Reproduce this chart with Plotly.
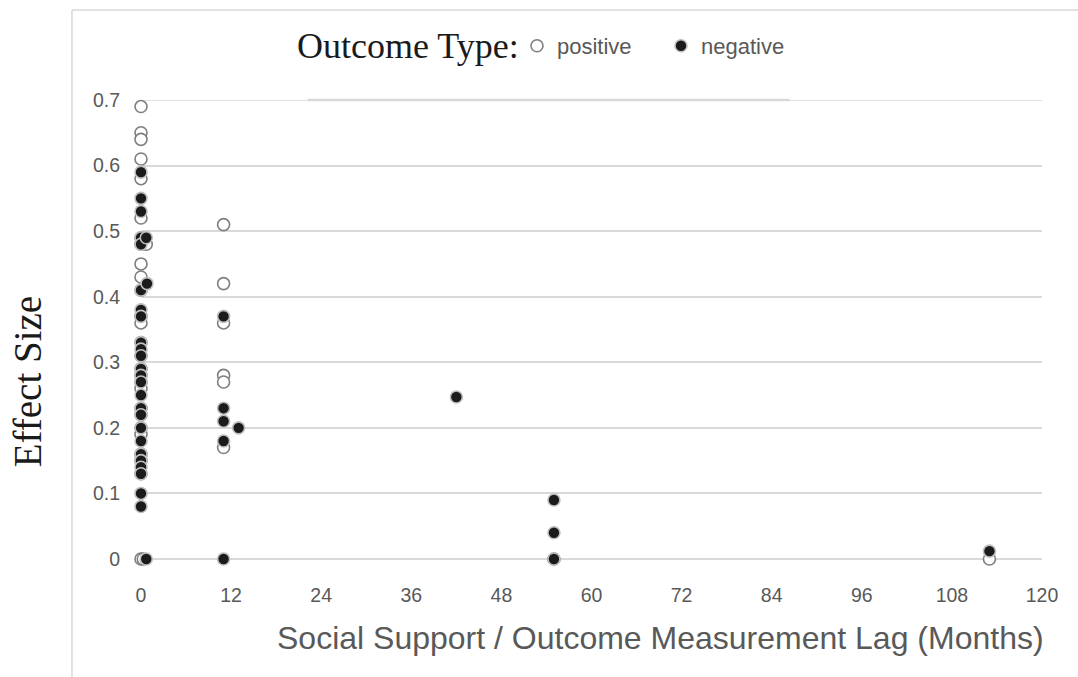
import plotly.graph_objects as go

# Lag between social support and outcome measurement (months) and effect sizes
pos_lag = [0, 0, 0, 0, 0, 0, 0, 0, 0, 0, 0, 0, 0, 0, 0, 0, 0, 0, 0, 0,
           0, 0, 0, 0, 0, 0, 0, 0.7, 0.3,
           11, 11, 11, 11, 11, 11, 55, 113]
pos_effect = [0.69, 0.65, 0.64, 0.61, 0.58, 0.52, 0.49, 0.48, 0.45, 0.43,
              0.41, 0.37, 0.36, 0.33, 0.31, 0.29, 0.28, 0.27, 0.26, 0.23,
              0.22, 0.20, 0.19, 0.16, 0.15, 0.13, 0.0, 0.48, 0.0,
              0.51, 0.42, 0.36, 0.28, 0.27, 0.17, 0.0, 0.0]

neg_lag = [0, 0, 0, 0, 0, 0, 0, 0, 0, 0, 0, 0, 0, 0, 0, 0, 0, 0, 0, 0,
           0, 0, 0, 0, 0, 0.7, 0.8, 0.7,
           11, 11, 11, 11, 11, 13, 42, 55, 55, 55, 113]
neg_effect = [0.59, 0.55, 0.53, 0.49, 0.48, 0.41, 0.38, 0.37, 0.33, 0.32,
              0.31, 0.29, 0.28, 0.27, 0.25, 0.23, 0.22, 0.20, 0.18, 0.16,
              0.15, 0.14, 0.13, 0.10, 0.08, 0.49, 0.42, 0.0,
              0.37, 0.23, 0.21, 0.18, 0.0, 0.20, 0.247, 0.09, 0.04, 0.0, 0.012]

x_ticks = [0, 12, 24, 36, 48, 60, 72, 84, 96, 108, 120]
y_ticks = [0, 0.1, 0.2, 0.3, 0.4, 0.5, 0.6, 0.7]
y_tick_text = ["0", "0.1", "0.2", "0.3", "0.4", "0.5", "0.6", "0.7"]

GRID = "#d9d9d9"
TICK_GRAY = "#595959"

fig = go.Figure()

# Top gridline at the upper end of the value axis
fig.add_shape(type="line", xref="x", yref="y", layer="below",
              x0=x_ticks[0], x1=x_ticks[-1], y0=y_ticks[-1], y1=y_ticks[-1],
              line=dict(color=GRID, width=1.5))

fig.add_trace(go.Scatter(
    x=pos_lag, y=pos_effect, mode="markers", name="positive",
    cliponaxis=False,
    marker=dict(symbol="circle", size=12, color="#ffffff",
                line=dict(color="#7f7f7f", width=1.6)),
))
fig.add_trace(go.Scatter(
    x=neg_lag, y=neg_effect, mode="markers", name="negative",
    cliponaxis=False,
    marker=dict(symbol="circle", size=12, color="#1c1a1b",
                line=dict(color="#bfbfbf", width=1.6)),
))

# Outer chart frame (left and top edges)
fig.add_shape(type="line", xref="paper", yref="paper",
              x0=-0.0766, x1=-0.0766, y0=1.196, y1=-0.27,
              line=dict(color=GRID, width=1.5))
fig.add_shape(type="line", xref="paper", yref="paper",
              x0=-0.0766, x1=1.05, y0=1.196, y1=1.196,
              line=dict(color=GRID, width=1.5))
# Legend box lower edge over the top gridline
fig.add_shape(type="line", xref="paper", yref="paper", layer="below",
              x0=0.185, x1=0.72, y0=1.0, y1=1.0,
              line=dict(color=GRID, width=2.6))

# Legend heading
fig.add_annotation(text="Outcome Type:", xref="paper", yref="paper",
                   x=0.171, y=1.1176, xanchor="left", yanchor="middle",
                   showarrow=False,
                   font=dict(family="Liberation Serif", size=36, color="#1a1a1a"))

# Axis titles
fig.add_annotation(text="Social Support / Outcome Measurement Lag (Months)",
                   xref="paper", yref="paper", x=1.004, y=-0.172,
                   xanchor="right", yanchor="middle", showarrow=False,
                   font=dict(family="Liberation Sans", size=32, color=TICK_GRAY))
fig.add_annotation(text="Effect Size", textangle=-90,
                   xref="paper", yref="paper", x=-0.126, y=0.386,
                   xanchor="center", yanchor="middle", showarrow=False,
                   font=dict(family="Liberation Serif", size=39, color="#1a1a1a"))

fig.update_layout(
    width=1078, height=677,
    margin=dict(l=141, r=36, t=100, b=118, autoexpand=False),
    paper_bgcolor="#ffffff", plot_bgcolor="#ffffff",
    showlegend=True,
    legend=dict(
        orientation="h", xref="container", x=517 / 1078, xanchor="left",
        yref="container", y=1 - 46 / 677, yanchor="middle",
        entrywidthmode="pixels", entrywidth=99,
        font=dict(family="Liberation Sans", size=22, color=TICK_GRAY),
        bgcolor="rgba(0,0,0,0)", itemclick=False,
    ),
    xaxis=dict(
        range=[0, 120], tickvals=x_ticks, showgrid=False, zeroline=False,
        showline=False, ticks="", ticklabelstandoff=22,
        tickfont=dict(family="Liberation Sans", size=19.5, color=TICK_GRAY),
    ),
    yaxis=dict(
        range=[0, 0.7], tickvals=y_ticks, ticktext=y_tick_text,
        showgrid=True, gridcolor=GRID, gridwidth=1.5,
        zeroline=True, zerolinecolor=GRID, zerolinewidth=1.5,
        showline=False, ticks="", ticklabelstandoff=20,
        tickfont=dict(family="Liberation Sans", size=19.5, color=TICK_GRAY),
    ),
)

fig.write_html("out.html")
